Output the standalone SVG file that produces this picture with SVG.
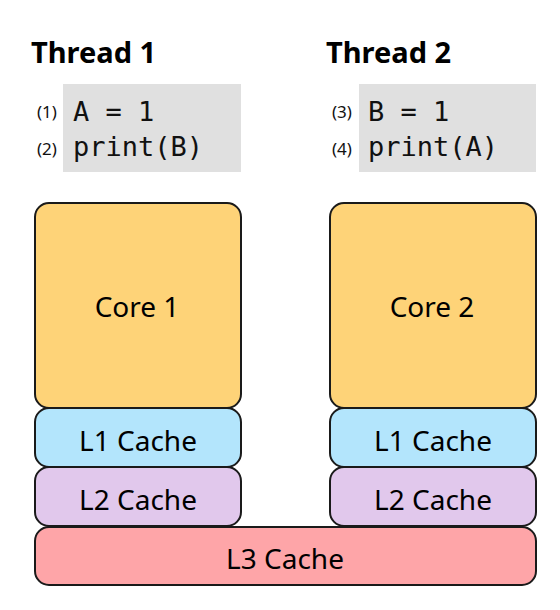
<svg xmlns="http://www.w3.org/2000/svg" width="560" height="610" viewBox="0 0 560 610">
<style>
.t{font-family:"Noto Sans","Open Sans","DejaVu Sans",sans-serif;fill:#000}
.title{font-size:29px;font-weight:bold}
.lab{font-size:28px;text-anchor:middle}
.code{font-family:"DejaVu Sans Mono","Liberation Mono",monospace;font-size:27px;fill:#111}
.num{font-family:"Noto Sans","DejaVu Sans",sans-serif;font-size:17px;fill:#111}
.box{stroke:#1a1a1a;stroke-width:2}
.cbg{fill:#e0e0e0}
</style>
<rect width="560" height="610" fill="#fff"/>
<g id="thread1">
<text class="t title" x="31" y="63">Thread 1</text>
<rect class="cbg" x="63" y="84" width="178" height="88"/>
<text class="num" x="37" y="118">(1)</text>
<text class="num" x="37" y="155">(2)</text>
<text class="code" x="73" y="121">A = 1</text>
<text class="code" x="73" y="156">print(B)</text>
</g>
<g id="thread2">
<text class="t title" x="326" y="63">Thread 2</text>
<rect class="cbg" x="359" y="84" width="177" height="88"/>
<text class="num" x="332" y="118">(3)</text>
<text class="num" x="332" y="155">(4)</text>
<text class="code" x="368" y="121">B = 1</text>
<text class="code" x="368" y="156">print(A)</text>
</g>
<g id="l3">
<rect class="box" x="35" y="527" width="501" height="58" rx="14" fill="#fea5a8"/>
<text class="t lab" x="285" y="569">L3 Cache</text>
</g>
<g id="l2a">
<rect class="box" x="35" y="467" width="206" height="59" rx="14" fill="#e1c8ec"/>
<text class="t lab" x="138" y="510">L2 Cache</text>
</g>
<g id="l2b">
<rect class="box" x="330" y="467" width="206" height="59" rx="14" fill="#e1c8ec"/>
<text class="t lab" x="433" y="510">L2 Cache</text>
</g>
<g id="l1a">
<rect class="box" x="35" y="408" width="206" height="59" rx="14" fill="#b3e5fc"/>
<text class="t lab" x="138" y="451">L1 Cache</text>
</g>
<g id="l1b">
<rect class="box" x="330" y="408" width="206" height="59" rx="14" fill="#b3e5fc"/>
<text class="t lab" x="433" y="451">L1 Cache</text>
</g>
<g id="core1">
<rect class="box" x="35" y="203" width="206" height="205" rx="14" fill="#fed378"/>
<text class="t lab" x="137" y="317">Core 1</text>
</g>
<g id="core2">
<rect class="box" x="330" y="203" width="206" height="205" rx="14" fill="#fed378"/>
<text class="t lab" x="432" y="317">Core 2</text>
</g>
<g id="connectors"></g>
</svg>
